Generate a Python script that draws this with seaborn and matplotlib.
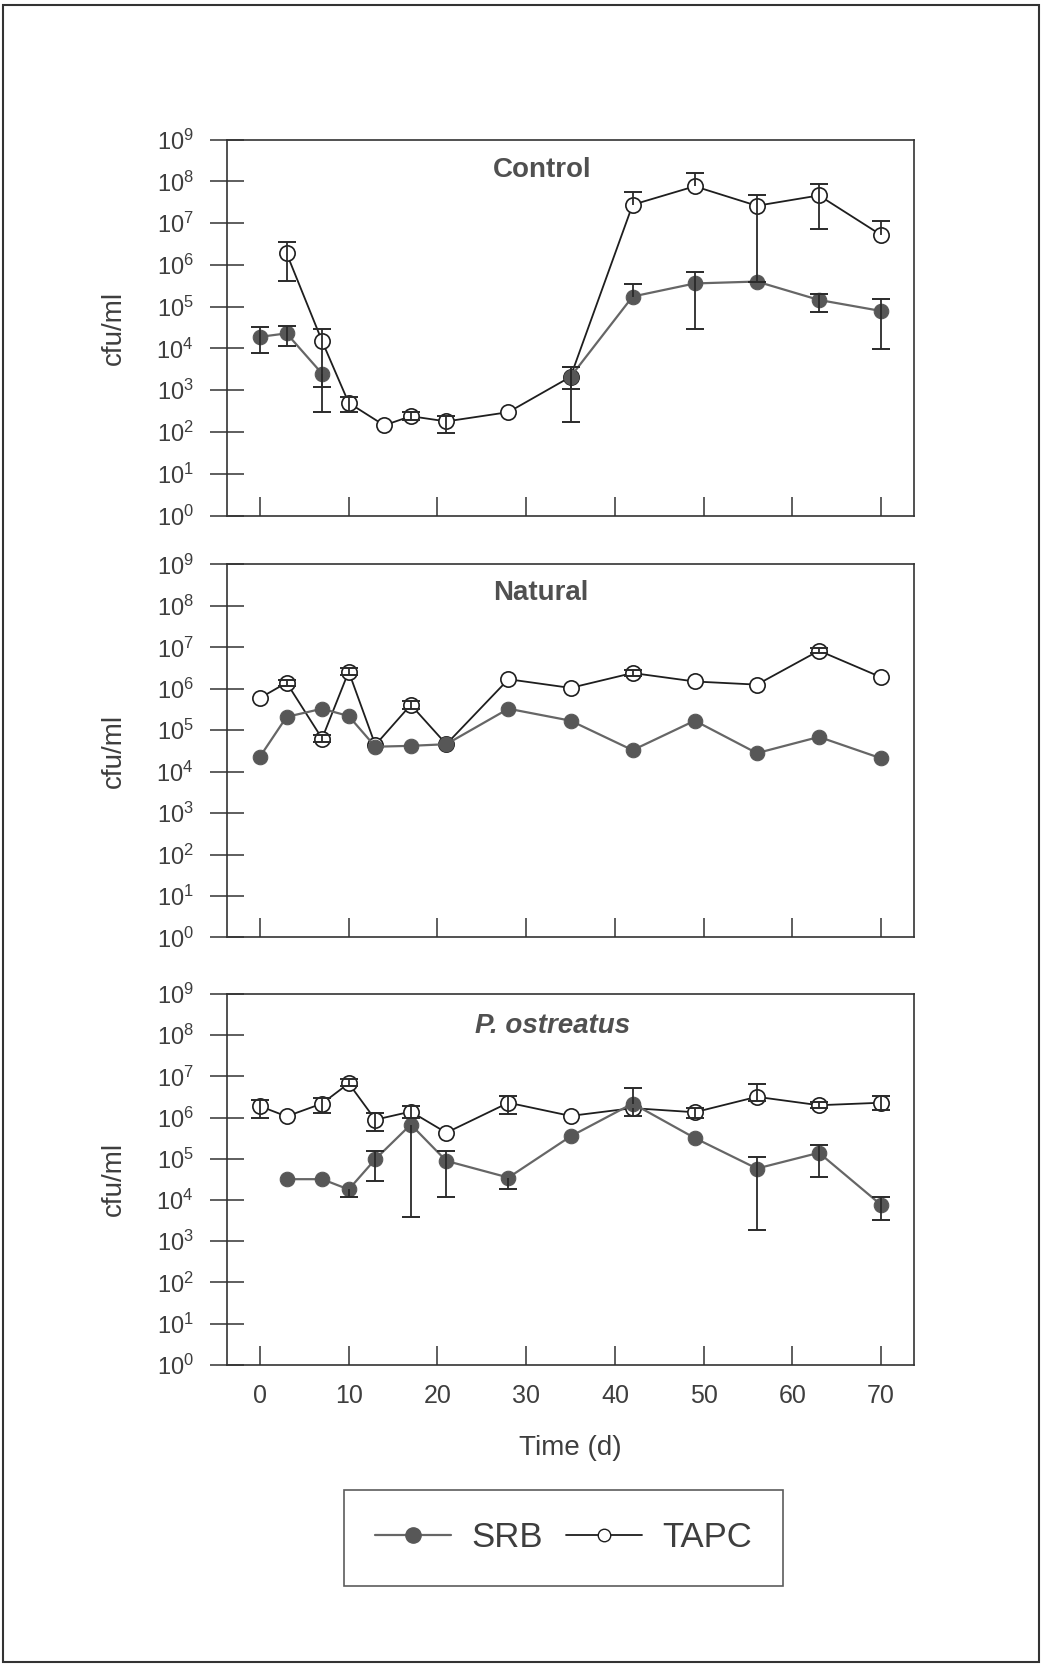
"""
Bacterial counts (SRB vs TAPC) over 70 days, three treatments, log scale
"""

import numpy as np
import pandas as pd
import matplotlib
matplotlib.use('Agg')
import matplotlib.pyplot as plt
from matplotlib.lines import Line2D
from matplotlib.patches import Rectangle
import seaborn as sns

# Data (cfu/ml)
ctrl_days = [0, 3, 7, 10, 14, 17, 21, 28, 35, 42, 49, 56, 63, 70]
ctrl_srb = [1.9e4, 2.3e4, 2.5e3, np.nan, np.nan, np.nan, np.nan, np.nan,
            2.1e3, 1.75e5, 3.6e5, 4.0e5, 1.45e5, 7.9e4]
ctrl_srb_lo = [7.9e3, 1.15e4, 3.0e2, np.nan, np.nan, np.nan, np.nan, np.nan,
               1.7e2, np.nan, 2.9e4, np.nan, 7.6e4, 9.5e3]
ctrl_srb_hi = [3.2e4, 3.5e4, np.nan, np.nan, np.nan, np.nan, np.nan, np.nan,
               3.6e3, 3.5e5, 6.6e5, np.nan, 2.0e5, 1.5e5]
ctrl_tapc = [np.nan, 1.9e6, 1.5e4, 5.0e2, 1.45e2, 2.4e2, 1.8e2, 3.0e2,
             2.1e3, 2.75e7, 7.6e7, 2.6e7, 4.6e7, 5.2e6]
ctrl_tapc_lo = [np.nan, 4.2e5, 1.2e3, 3.0e2, np.nan, 1.9e2, 9.5e1, np.nan,
                1.05e3, np.nan, np.nan, 4.0e5, 7.2e6, np.nan]
ctrl_tapc_hi = [np.nan, 3.5e6, 3.0e4, 7.0e2, np.nan, 3.0e2, 2.4e2, np.nan,
                3.6e3, 5.5e7, 1.6e8, 4.8e7, 8.7e7, 1.1e7]

days = [0, 3, 7, 10, 13, 17, 21, 28, 35, 42, 49, 56, 63, 70]

nat_srb = [2.3e4, 2.1e5, 3.3e5, 2.2e5, 4.0e4, 4.2e4, 4.6e4, 3.3e5,
           1.7e5, 3.3e4, 1.7e5, 2.8e4, 6.9e4, 2.1e4]
nat_tapc = [6.0e5, 1.4e6, 6.3e4, 2.6e6, 4.4e4, 4.1e5, 4.6e4, 1.7e6,
            1.05e6, 2.4e6, 1.5e6, 1.26e6, 8.3e6, 1.9e6]
nat_tapc_lo = [np.nan, 1.2e6, 5.2e4, 2.1e6, np.nan, 3.2e5, np.nan, np.nan,
               np.nan, 2.0e6, np.nan, np.nan, 7.5e6, np.nan]
nat_tapc_hi = [np.nan, 1.6e6, 7.6e4, 3.2e6, np.nan, 5.2e5, np.nan, np.nan,
               np.nan, 2.9e6, np.nan, np.nan, 9.5e6, np.nan]

pleu_srb = [np.nan, 3.2e4, 3.2e4, 1.8e4, 9.8e4, 6.8e5, 8.9e4, 3.5e4,
            3.5e5, 2.2e6, 3.2e5, 5.8e4, 1.4e5, 7.6e3]
pleu_srb_lo = [np.nan, np.nan, np.nan, 1.15e4, 2.9e4, 3.8e3, 1.2e4, 1.8e4,
               np.nan, np.nan, np.nan, 1.9e3, 3.7e4, 3.2e3]
pleu_srb_hi = [np.nan, np.nan, np.nan, np.nan, 1.55e5, np.nan, 1.55e5, np.nan,
               np.nan, 5.1e6, np.nan, 1.1e5, 2.2e5, 1.15e4]
pleu_tapc = [1.9e6, 1.07e6, 2.2e6, 6.8e6, 8.9e5, 1.4e6, 4.3e5, 2.3e6,
             1.1e6, 1.7e6, 1.35e6, 3.2e6, 2.0e6, 2.3e6]
pleu_tapc_lo = [9.8e5, np.nan, 1.3e6, 5.8e6, 4.7e5, 1.0e6, np.nan, 1.2e6,
                np.nan, 1.07e6, 1.0e6, 2.6e6, 1.7e6, 1.5e6]
pleu_tapc_hi = [2.7e6, np.nan, 3.0e6, 8.9e6, 1.3e6, 1.9e6, np.nan, 3.4e6,
                np.nan, np.nan, 1.7e6, 6.6e6, 2.4e6, 3.3e6]

panel_titles = ['Control', 'Natural', 'P. ostreatus']
series_names = ['SRB', 'TAPC']

panels = [
    (ctrl_days, ctrl_srb, ctrl_srb_lo, ctrl_srb_hi, ctrl_tapc, ctrl_tapc_lo, ctrl_tapc_hi),
    (days, nat_srb, [np.nan] * 14, [np.nan] * 14, nat_tapc, nat_tapc_lo, nat_tapc_hi),
    (days, pleu_srb, pleu_srb_lo, pleu_srb_hi, pleu_tapc, pleu_tapc_lo, pleu_tapc_hi),
]

# Style
sns.set_style('white')
plt.rcParams['font.family'] = ['Liberation Sans', 'DejaVu Sans']
plt.rcParams['mathtext.fontset'] = 'custom'
plt.rcParams['mathtext.rm'] = 'Liberation Sans'
plt.rcParams['mathtext.it'] = 'Liberation Sans:italic'

TXT = '#3e3e3e'
SRB_LINE = '#666666'
SRB_FILL = '#575757'
TAPC_LINE = '#1e1e1e'
ERR = '#2a2a2a'
AX = '#333333'

fig = plt.figure(figsize=(10.44, 16.71), dpi=100)

ax_rects = [
    [0.2174, 0.6914, 0.658, 0.2251],
    [0.2174, 0.4390, 0.658, 0.2232],
    [0.2174, 0.1833, 0.658, 0.2218],
]
title_pos = [(0.459, 0.918), (0.457, 0.923), (0.474, 0.914)]


def series_frame(x, y):
    # split at gaps so missing days are not bridged by a line
    df = pd.DataFrame({'day': x, 'cfu': y})
    df['seg'] = df['cfu'].isna().cumsum()
    return df.dropna()


def draw_errors(ax, x, y, lo, hi):
    x = np.asarray(x, float)
    y = np.asarray(y, float)
    lo = np.asarray(lo, float)
    hi = np.asarray(hi, float)
    has = ~(np.isnan(lo) & np.isnan(hi)) & ~np.isnan(y)
    bot = np.where(np.isnan(lo), y, lo)
    top = np.where(np.isnan(hi), y, hi)
    ax.vlines(x[has], bot[has], top[has], color=ERR, lw=1.3, zorder=6)
    for ends in (lo, hi):
        m = ~np.isnan(ends) & ~np.isnan(y)
        ax.plot(x[m], ends[m], ls='none', marker='_', ms=13, mew=1.4,
                color=ERR, zorder=6)


for i, (rect, data) in enumerate(zip(ax_rects, panels)):
    ax = fig.add_axes(rect)
    x, srb, srb_lo, srb_hi, tapc, tapc_lo, tapc_hi = data
    ax.set_yscale('log')

    sns.lineplot(data=series_frame(x, tapc), x='day', y='cfu', units='seg',
                 estimator=None, ax=ax, color=TAPC_LINE, lw=1.3, marker='o',
                 markersize=11, markerfacecolor='white',
                 markeredgecolor=TAPC_LINE, markeredgewidth=1.2, zorder=3)
    sns.lineplot(data=series_frame(x, srb), x='day', y='cfu', units='seg',
                 estimator=None, ax=ax, color=SRB_LINE, lw=1.6, marker='o',
                 markersize=10.5, markerfacecolor=SRB_FILL,
                 markeredgecolor=SRB_FILL, zorder=4)
    draw_errors(ax, x, tapc, tapc_lo, tapc_hi)
    draw_errors(ax, x, srb, srb_lo, srb_hi)

    ax.set_xlim(-3.72, 73.7)
    ax.set_ylim(1, 1e9)
    ax.set_yticks([10.0 ** k for k in range(10)])
    ax.set_yticklabels([f'$10^{{{k}}}$' for k in range(10)])
    ax.yaxis.set_minor_locator(matplotlib.ticker.NullLocator())
    ax.set_xticks(range(0, 71, 10))
    ax.tick_params(axis='y', left=True, direction='inout', length=24, width=1.1,
                   color=AX, labelsize=17, labelcolor=TXT, pad=12)
    ax.tick_params(axis='x', bottom=True, direction='in', length=14, width=1.1,
                   color=AX, labelsize=18, labelcolor=TXT, pad=14)
    if i < 2:
        ax.set_xticklabels([])
    for sp in ax.spines.values():
        sp.set_visible(True)
        sp.set_color(AX)
        sp.set_linewidth(1.2)

    ax.set_xlabel('')
    ax.set_ylabel('cfu/ml', fontsize=20, color=TXT)
    ax.yaxis.set_label_coords(-0.145, 0.5)
    style = 'italic' if i == 2 else 'normal'
    ax.text(title_pos[i][0], title_pos[i][1], panel_titles[i], transform=ax.transAxes,
            ha='center', va='center', fontsize=20, fontweight='bold',
            fontstyle=style, color='#505050')

ax.set_xlabel('Time (d)', fontsize=20, color=TXT)
ax.xaxis.set_label_coords(0.5, -0.19)

handles = [
    Line2D([], [], color=SRB_LINE, lw=1.6, marker='o', ms=11,
           markerfacecolor=SRB_FILL, markeredgecolor=SRB_FILL),
    Line2D([], [], color=TAPC_LINE, lw=1.3, marker='o', ms=9,
           markerfacecolor='white', markeredgecolor=TAPC_LINE),
]
leg = fig.legend(handles, series_names, loc='center', bbox_to_anchor=(0.5398, 0.0796),
                 ncol=2, frameon=True, fancybox=False, fontsize=25,
                 handlelength=2.2, columnspacing=0.66, handletextpad=0.58,
                 borderpad=0.9)
leg.get_frame().set_edgecolor(AX)
leg.get_frame().set_linewidth(1.2)
for t in leg.get_texts():
    t.set_color(TXT)

# page frame from the scanned original
fig.patches.append(Rectangle((0.003, 0.0054), 0.992, 0.9916, transform=fig.transFigure,
                             fill=False, edgecolor=AX, lw=1.5))

fig.savefig('out.png', dpi=100)
